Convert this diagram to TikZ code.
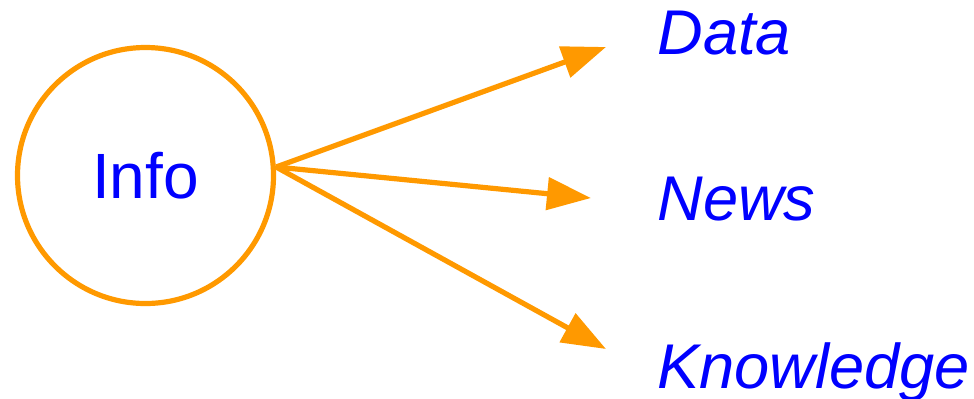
\documentclass[tikz,border=0pt]{standalone}
\usepackage{fontspec}
\setmainfont{Liberation Sans}
\usetikzlibrary{positioning,arrows.meta}
\definecolor{infoorange}{HTML}{FF9900}
\definecolor{infoblue}{HTML}{0000FF}
\begin{document}
\begin{tikzpicture}[x=0.5pt,y=-0.5pt,
				hub/.style={circle,draw=infoorange,line width=2.6pt,minimum size=128pt,inner sep=0pt,
					text=infoblue,font=\fontsize{32}{36}\selectfont},
				term/.style={anchor=base west,inner sep=0pt,text=infoblue,font=\fontsize{31.6}{36}\selectfont\itshape},
				link/.style={draw=infoorange,line width=2.6pt,-{Triangle[length=22pt,width=16pt]}}]
				\useasboundingbox (0,0) rectangle (974,398);
				\node[hub]  (INFO)  at (145.5,175.5) {Info};
				\node[term] (DATA)  at (657,54)      {Data};
				\node[term] (NEWS)  at (657,220)     {News};
				\node[term] (KNOW)  at (657,388)     {Knowledge};
				\coordinate (SRC)   at ([yshift=4.25pt]INFO.east);
				\coordinate (TDATA) at (606,47);
				\coordinate (TNEWS) at (591,198);
				\coordinate (TKNOW) at (606,349);

				\draw[link] (SRC) -- (TDATA);
				\draw[link] (SRC) -- (TNEWS);
				\draw[link] (SRC) -- (TKNOW);
			\end{tikzpicture}
\end{document}
